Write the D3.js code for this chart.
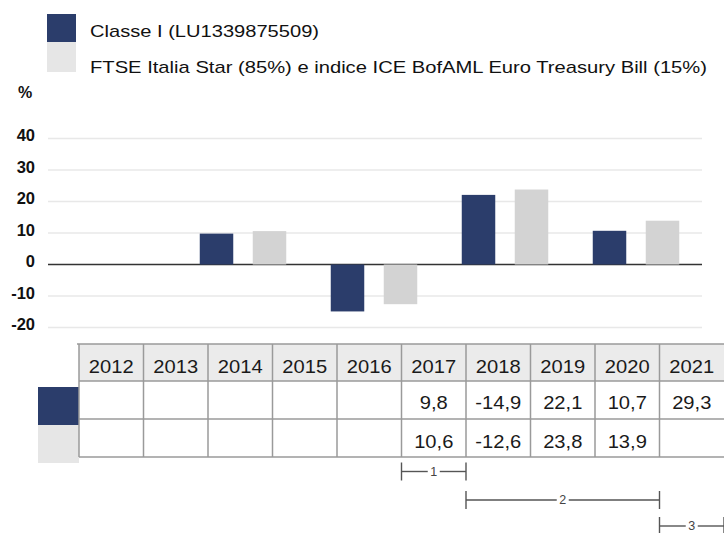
<!DOCTYPE html>
<html><head><meta charset="utf-8">
<script src="https://cdn.jsdelivr.net/npm/d3@7"></script>
<style>
body{margin:0;background:#fff}
svg{display:block;font-family:"Liberation Sans",Arial,Helvetica,sans-serif}
</style>
</head><body>
<svg id="c" width="724" height="533"></svg>
<script>
// ---- data ----
const tableYears = ["2012","2013","2014","2015","2016","2017","2018","2019","2020","2021"];
const barYears = ["2017","2018","2019","2020"];
const seriesNames = ["Classe I (LU1339875509)", "FTSE Italia Star (85%) e indice ICE BofAML Euro Treasury Bill (15%)"];
const fundValues  = [null,null,null,null,null, 9.8,-14.9,22.1,10.7,29.3];
const benchValues = [null,null,null,null,null,10.6,-12.6,23.8,13.9,null];
const yTicks = [-20,-10,0,10,20,30,40];
const periodLabels = ["1","2","3"];
const periodStart = ["2017","2018","2021"];
const periodEnd   = ["2017","2020","2021"];

// ---- styles ----
const DARK = "#2b3d6b", LIGHT_BAR = "#d3d3d3", LIGHT_KEY = "#e6e6e6";
const fmt = v => v == null ? "" : String(v).replace(".", ",");
const svg = d3.select("#c");

function stretch(sel, f){
  sel.each(function(){
    const l = this.getComputedTextLength();
    if (l>0) d3.select(this).attr("textLength", l*f).attr("lengthAdjust","spacingAndGlyphs");
  });
}

// ---- legend ----
const keyColors = [DARK, LIGHT_KEY];
const legendWidths = [229, 617];
const lg = svg.append("g");
lg.selectAll("rect").data(seriesNames).join("rect")
  .attr("x",47).attr("y",(d,i)=> i===0 ? 14 : 42).attr("width",29).attr("height",(d,i)=> i===0 ? 28 : 30)
  .attr("fill",(d,i)=>keyColors[i]);
lg.selectAll("text").data(seriesNames).join("text")
  .attr("x",90).attr("y",(d,i)=> i===0 ? 37 : 73)
  .attr("font-size",17).attr("fill","#111").text(d=>d)
  .attr("textLength",(d,i)=>legendWidths[i]).attr("lengthAdjust","spacingAndGlyphs");

// ---- scales ----
const y = d3.scaleLinear().domain([-20,40]).range([327.5,138.5]);
const xGroup = d3.scaleBand().domain(barYears).range([177.5,701.5]);
const xInner = d3.scaleBand().domain(["fund","bench"]).range([0,xGroup.bandwidth()])
  .paddingInner(0.368).paddingOuter(0.42);
const xTable = d3.scaleBand().domain(tableYears).range([79,724]);

// ---- y axis ----
svg.append("text").attr("x",18).attr("y",98).attr("font-size",16).attr("font-weight","bold")
  .attr("fill","#111").text("%");
const yAxis = d3.axisLeft(y).tickValues(yTicks).tickSize(0).tickPadding(0).tickFormat(d=>d);
const ya = svg.append("g").attr("transform","translate(35,0)").call(yAxis);
ya.select(".domain").remove();
ya.selectAll("text").attr("font-size",16.5).attr("font-weight","bold").attr("fill","#111")
  .attr("font-family",null).attr("dy","0.34em").attr("transform","translate(0,-3.3)");

// gridlines
svg.append("g").selectAll("line").data(yTicks.filter(v=>v!==0)).join("line")
  .attr("x1",48).attr("x2",702).attr("y1",d=>y(d)).attr("y2",d=>y(d))
  .attr("stroke","#e8e8e8").attr("stroke-width",1.5);
svg.append("line").attr("x1",48).attr("x2",702).attr("y1",y(0)).attr("y2",y(0))
  .attr("stroke","#333").attr("stroke-width",1.3);

// ---- bars ----
const barData = [];
barYears.forEach(yr=>{
  const i = tableYears.indexOf(yr);
  if (fundValues[i]!=null) barData.push({yr, s:"fund", v:fundValues[i]});
  if (benchValues[i]!=null) barData.push({yr, s:"bench", v:benchValues[i]});
});
svg.append("g").selectAll("rect").data(barData).join("rect")
  .attr("x",d=>xGroup(d.yr)+xInner(d.s)).attr("width",xInner.bandwidth())
  .attr("y",d=>y(Math.max(0,d.v))).attr("height",d=>Math.abs(y(d.v)-y(0)))
  .attr("fill",d=>d.s==="fund"?DARK:LIGHT_BAR);

// ---- table ----
const tTop=344, tHead=381, tR1=419, tR2=457;
const tb = svg.append("g");
tb.append("rect").attr("x",79).attr("y",tTop).attr("width",724-79).attr("height",tHead-tTop).attr("fill","#ebebeb");
tb.append("rect").attr("x",38).attr("y",387).attr("width",41).attr("height",38).attr("fill",DARK);
tb.append("rect").attr("x",38).attr("y",425).attr("width",41).attr("height",38).attr("fill",LIGHT_KEY);
const lineCol = "#9a9a9a";
tb.selectAll("line.h").data([tTop,tHead,tR1,tR2]).join("line").attr("class","h")
  .attr("x1",(d,i)=> i===0?77:79).attr("x2",724).attr("y1",d=>d).attr("y2",d=>d)
  .attr("stroke",lineCol).attr("stroke-width",1.5);
tb.selectAll("line.v").data(tableYears.map(t=>xTable(t))).join("line").attr("class","v")
  .attr("x1",d=>d).attr("x2",d=>d).attr("y1",tTop).attr("y2",tR2)
  .attr("stroke",lineCol).attr("stroke-width",1.5);
const cx = t => xTable(t)+xTable.bandwidth()/2;
tb.selectAll("text.hd").data(tableYears).join("text").attr("class","hd")
  .attr("x",cx).attr("y",372.5).attr("text-anchor","middle").attr("font-size",19).attr("fill","#1a1a1a")
  .text(d=>d).call(stretch,1.06);
tb.selectAll("text.r1").data(tableYears).join("text").attr("class","r1")
  .attr("x",cx).attr("y",409).attr("text-anchor","middle").attr("font-size",19).attr("fill","#1a1a1a")
  .text((d,i)=>fmt(fundValues[i])).call(stretch,1.06);
tb.selectAll("text.r2").data(tableYears).join("text").attr("class","r2")
  .attr("x",cx).attr("y",447.5).attr("text-anchor","middle").attr("font-size",19).attr("fill","#1a1a1a")
  .text((d,i)=>fmt(benchValues[i])).call(stretch,1.06);

// ---- period brackets ----
const levels = [471.5, 500, 526];
const pg = svg.append("g").attr("stroke","#555").attr("stroke-width",1.4);
periodLabels.forEach((lab,i)=>{
  const x1 = xTable(periodStart[i]), x2 = xTable(periodEnd[i])+xTable.bandwidth();
  const ly = levels[i], mid=(x1+x2)/2;
  pg.append("line").attr("x1",x1).attr("x2",x1).attr("y1",ly-9).attr("y2",ly+9);
  pg.append("line").attr("x1",x2).attr("x2",x2).attr("y1",ly-9).attr("y2",ly+9);
  pg.append("line").attr("x1",x1).attr("x2",mid-6).attr("y1",ly).attr("y2",ly);
  pg.append("line").attr("x1",mid+6).attr("x2",x2).attr("y1",ly).attr("y2",ly);
  svg.append("text").attr("x",mid).attr("y",ly+4.3).attr("text-anchor","middle")
    .attr("font-size",12.5).attr("fill","#444").text(lab);
});
</script>
</body></html>
